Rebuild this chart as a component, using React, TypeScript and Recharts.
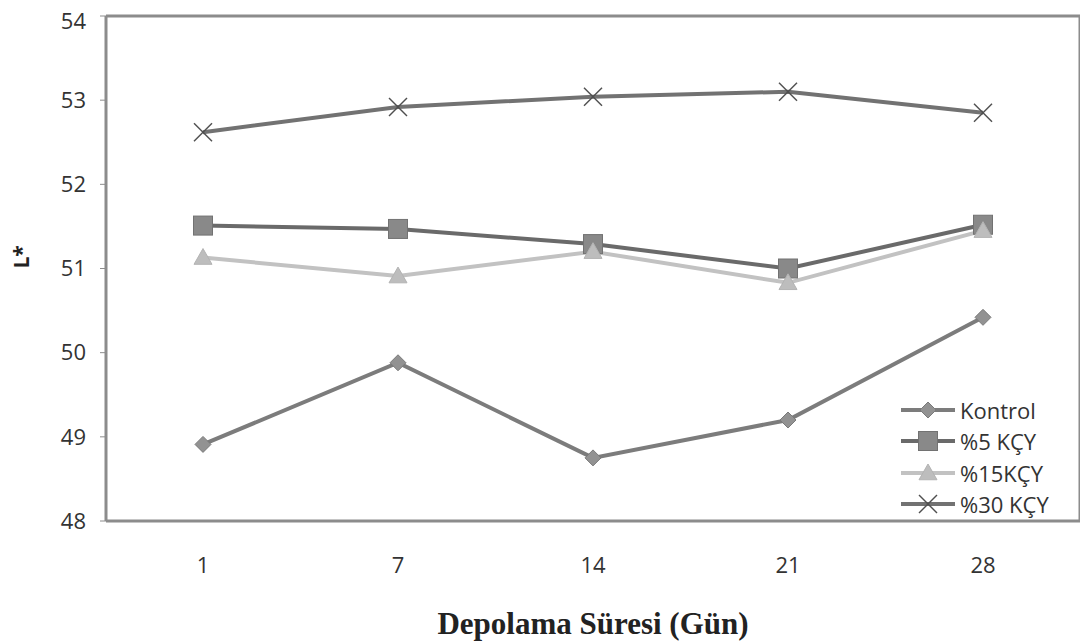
import { LineChart, Line, XAxis, YAxis, Legend, CartesianGrid } from 'recharts';

const days = ['1', '7', '14', '21', '28'];
const kontrol = [48.91, 49.88, 48.75, 49.2, 50.42];
const kcy5 = [51.51, 51.47, 51.29, 51.0, 51.52];
const kcy15 = [51.13, 50.91, 51.2, 50.83, 51.45];
const kcy30 = [52.62, 52.92, 53.04, 53.1, 52.85];
const yTicks = [48, 49, 50, 51, 52, 53, 54];

const data = days.map((d, i) => ({
  day: d,
  kontrol: kontrol[i],
  kcy5: kcy5[i],
  kcy15: kcy15[i],
  kcy30: kcy30[i],
}));

type MarkerKind = 'diamond' | 'square' | 'triangle' | 'cross';

function Marker({ kind, cx, cy }: { kind: MarkerKind; cx: number; cy: number }) {
  if (kind === 'diamond') {
    const r = 8;
    return (
      <polygon
        points={`${cx},${cy - r} ${cx + r},${cy} ${cx},${cy + r} ${cx - r},${cy}`}
        fill="#929292"
        stroke="#7a7a7a"
        strokeWidth={1}
      />
    );
  }
  if (kind === 'square') {
    const s = 9.5;
    return <rect x={cx - s} y={cy - s} width={s * 2} height={s * 2} fill="#898989" stroke="#727272" strokeWidth={1} />;
  }
  if (kind === 'triangle') {
    const r = 9;
    return (
      <polygon
        points={`${cx},${cy - r} ${cx + r},${cy + r * 0.75} ${cx - r},${cy + r * 0.75}`}
        fill="#bdbdbd"
        stroke="#b3b3b3"
        strokeWidth={1}
      />
    );
  }
  const r = 9;
  return (
    <g stroke="#4f4f4f" strokeWidth={1.4}>
      <line x1={cx - r} y1={cy - r} x2={cx + r} y2={cy + r} />
      <line x1={cx - r} y1={cy + r} x2={cx + r} y2={cy - r} />
    </g>
  );
}

const series: { key: string; name: string; color: string; marker: MarkerKind }[] = [
  { key: 'kontrol', name: 'Kontrol', color: '#7c7c7c', marker: 'diamond' },
  { key: 'kcy5', name: '%5 KÇY', color: '#6a6a6a', marker: 'square' },
  { key: 'kcy15', name: '%15KÇY', color: '#c2c2c2', marker: 'triangle' },
  { key: 'kcy30', name: '%30 KÇY', color: '#727272', marker: 'cross' },
];

const frame = '#8c8c8c';
const font = '"Open Sans", "Noto Sans", sans-serif';

function LegendBox() {
  return (
    <div style={{ fontFamily: font, fontSize: 22, color: '#333', lineHeight: 1 }}>
      {series.map((s) => (
        <div key={s.key} style={{ display: 'flex', alignItems: 'center', height: 31.5 }}>
          <svg width={58} height={24}>
            <line x1={0} y1={12} x2={54} y2={12} stroke={s.color} strokeWidth={4} />
            <Marker kind={s.marker} cx={27} cy={12} />
          </svg>
          <span style={{ marginLeft: 1, whiteSpace: 'nowrap' }}>{s.name}</span>
        </div>
      ))}
    </div>
  );
}

export default function App() {
  return (
    <LineChart width={1080} height={634} data={data} margin={{ top: 8, right: 8, left: 0, bottom: 8 }}>
      {/* plot frame: lines at the plot edges only */}
      <CartesianGrid
        stroke={frame}
        strokeWidth={3}
        horizontalCoordinatesGenerator={({ offset }: any) => [offset.top, offset.top + offset.height]}
        verticalCoordinatesGenerator={({ offset }: any) => [offset.left, offset.left + offset.width]}
      />
      <XAxis
        dataKey="day"
        padding={{ left: 97, right: 97 }}
        height={113}
        axisLine={false}
        tickLine={false}
        tickMargin={30}
        tick={{ fill: '#333', fontSize: 22, fontFamily: font }}
        label={{
          value: 'Depolama Süresi (Gün)',
          position: 'insideBottom',
          offset: 0,
          fill: '#222',
          fontSize: 31,
          fontWeight: 'bold',
          fontFamily: '"Liberation Serif", "DejaVu Serif", serif',
        }}
      />
      <YAxis
        domain={[48, 54]}
        ticks={yTicks}
        width={98}
        axisLine={false}
        stroke={frame}
        tickSize={6}
        tickMargin={14}
        tick={{ fill: '#333', fontSize: 22, fontFamily: font }}
        label={{
          value: 'L*',
          angle: -90,
          position: 'insideLeft',
          offset: 14,
          fill: '#222',
          fontSize: 21,
          fontWeight: 'bold',
          fontFamily: font,
        }}
      />
      {series.map((s) => (
        <Line
          key={s.key}
          dataKey={s.key}
          name={s.name}
          stroke={s.color}
          strokeWidth={4}
          isAnimationActive={false}
          dot={(p: any) => <Marker key={`${s.key}-${p.index}`} kind={s.marker} cx={p.cx} cy={p.cy} />}
          activeDot={false}
        />
      ))}
      <Legend
        layout="vertical"
        align="center"
        verticalAlign="middle"
        content={<LegendBox />}
        wrapperStyle={{ top: 386, left: 893, width: 180 }}
      />
    </LineChart>
  );
}
